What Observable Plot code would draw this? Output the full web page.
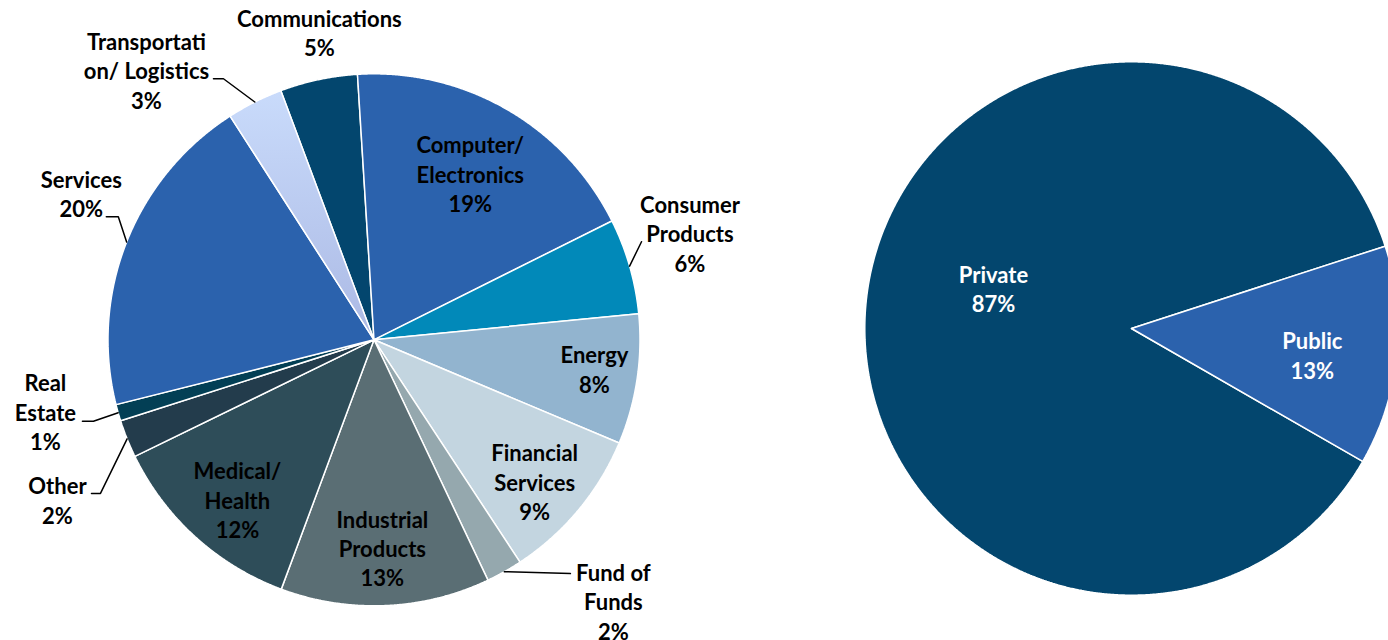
<!DOCTYPE html>
<html><head><meta charset="utf-8">
<script src="https://cdn.jsdelivr.net/npm/d3@7"></script>
<script src="https://cdn.jsdelivr.net/npm/@observablehq/plot@0.6"></script>
<style>
html,body{margin:0;padding:0;background:#fff;overflow:hidden}
svg{overflow:hidden}
</style>
</head><body><div id="chart"></div>
<script>
// ---------- DATA ----------
const industries = ["Communications","Computer/ Electronics","Consumer Products","Energy","Financial Services","Fund of Funds","Industrial Products","Medical/ Health","Other","Real Estate","Services","Transportation/ Logistics"];
const industryShares = [4.7, 18.6, 5.8, 7.9, 9.4, 2.2, 12.7, 12.1, 2.3, 1.0, 19.8, 3.4];
const ownership = ["Private","Public"];
const ownershipShares = [86.7, 13.3];

// ---------- STYLE / LAYOUT ----------
const industryColors = ["#03466E","#2B62AD","#0189B9","#92B4CF","#C3D5E0","#95A8AE","#5A6E74","#2E4D59","#233C4C","#033F55","#2B62AD","url(#transGrad)"];
const ownershipColors = ["#03466E","#2B62AD"];
const industryWrap = ["Communications","Computer/\nElectronics","Consumer\nProducts","Energy","Financial\nServices","Fund of\nFunds","Industrial\nProducts","Medical/\nHealth","Other","Real\nEstate","Services","Transportati\non/ Logistics"];
const ownershipWrap = ["Private","Public"];
const LEFT = {cx: 373.5, cy: 339.3, r: 266, start: -20.5};
const RIGHT = {cx: 1131, cy: 328, r: 266.7, start: 119.9};
// label placement: [radius px, angle offset deg from slice mid-angle]
const industryLabelPos = [[310.6,1.9],[190.5,0.4],[333,-2.3],[222.6,-0.7],[215.4,2.0],[355.5,-13],[209.9,0.2],[211.6,-2.0],[355.4,-5.2],[336.7,3.3],[326.4,4.7],[351.6,-13.7]];
const ownershipLabelPos = [[143.3,9.6],[183,2.9]];
// leader line start/elbow offsets from label anchor (px)
const industryLeaders = {2: [[-48.5,7]], 5: [[-43,-29]], 8: [[34,-8],[43,-8]], 9: [[37,8],[48,8]], 10: [[25,21.5],[37,21.5]], 11: [[67,7],[77,7]]};

const deg = Math.PI / 180;

function build(cats, vals, cols, wraps, lpos, leaders, P, textColor) {
  const total = d3.sum(vals);
  const arcs = d3.pie().sort(null).startAngle(P.start * deg).endAngle(P.start * deg + 2 * Math.PI)(vals);
  const pts = [], labels = [], lead = [];
  arcs.forEach((a, i) => {
    const key = cats[i];
    pts.push({key, color: cols[i], x: P.cx, y: P.cy});
    const n = Math.max(2, Math.ceil((a.endAngle - a.startAngle) / 0.004));
    for (let k = 0; k <= n; k++) {
      const t = a.startAngle + (a.endAngle - a.startAngle) * k / n;
      pts.push({key, color: cols[i], x: P.cx + P.r * Math.sin(t), y: P.cy - P.r * Math.cos(t)});
    }
    pts.push({key, color: cols[i], x: P.cx, y: P.cy});
    const mid = (a.startAngle + a.endAngle) / 2;
    const [lr, da] = lpos[i];
    const la = mid + da * deg;
    const lx = P.cx + lr * Math.sin(la), ly = P.cy - lr * Math.cos(la);
    labels.push({x: lx, y: ly, text: wraps[i] + "\n" + Math.round(vals[i] / total * 100) + "%", color: textColor});
    if (leaders && leaders[i]) {
      leaders[i].forEach(([dx, dy]) => lead.push({key, x: lx + dx, y: ly + dy}));
      lead.push({key, x: P.cx + P.r * Math.sin(mid), y: P.cy - P.r * Math.cos(mid)});
    }
  });
  return {pts, labels, lead};
}

const L = build(industries, industryShares, industryColors, industryWrap, industryLabelPos, industryLeaders, LEFT, "#000");
const Rt = build(ownership, ownershipShares, ownershipColors, ownershipWrap, ownershipLabelPos, null, RIGHT, "#fff");

const slices = L.pts.concat(Rt.pts.map(d => ({...d, key: "o-" + d.key})));
const labels = L.labels.concat(Rt.labels);

const chart = Plot.plot({
  width: 1388, height: 640, margin: 0,
  x: {domain: [0, 1388], range: [0, 1388], axis: null},
  y: {domain: [0, 640], range: [0, 640], axis: null},
  color: {type: "identity"},
  marks: [
    Plot.line(slices, {x: "x", y: "y", z: "key", fill: "color", stroke: "white", strokeWidth: 1.5, strokeLinejoin: "miter", curve: "linear"}),
    Plot.line(L.lead, {x: "x", y: "y", z: "key", stroke: "black", strokeWidth: 1.5, curve: "linear"}),
    Plot.text(labels, {x: "x", y: "y", dy: -2, text: "text", fill: "color", fontSize: 22, fontWeight: "bold", fontFamily: "Lato", lineHeight: 1.34, textAnchor: "middle"})
  ]
});

const defs = d3.select(chart).insert("defs", ":first-child");
const g = defs.append("linearGradient").attr("id", "transGrad").attr("x1", 0).attr("y1", 0).attr("x2", 0).attr("y2", 1);
g.append("stop").attr("offset", "0%").attr("stop-color", "#C9DBFB");
g.append("stop").attr("offset", "100%").attr("stop-color", "#ABB9E4");

document.getElementById("chart").appendChild(chart);
</script>
</body></html>
